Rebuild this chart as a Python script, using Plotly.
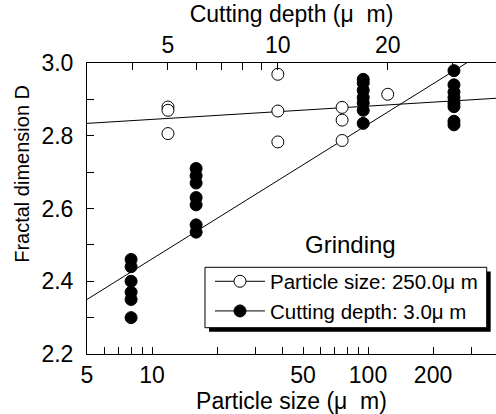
import numpy as np
import plotly.graph_objects as go

# ---- data ----
# Series 1: particle size 250 um, varying cutting depth (top axis)
depth_x = [5, 5, 5, 10, 10, 10, 15, 15, 15, 20]
depth_D = [2.879, 2.870, 2.806, 2.969, 2.868, 2.783, 2.878, 2.843, 2.787, 2.914]

# Series 2: cutting depth 3.0 um, varying particle size (bottom axis)
size_x = [8, 8, 8, 8, 8, 8,
          16, 16, 16, 16, 16, 16, 16,
          95, 95, 95, 95, 95, 95, 95,
          250, 250, 250, 250, 250, 250, 250, 250]
size_D = [2.46, 2.44, 2.40, 2.37, 2.35, 2.30,
          2.71, 2.69, 2.67, 2.63, 2.61, 2.555, 2.535,
          2.955, 2.945, 2.925, 2.905, 2.89, 2.87, 2.834,
          2.979, 2.94, 2.92, 2.905, 2.89, 2.88, 2.84, 2.83]

# fitted lines D = a + b*log10(x)
fit_depth = (2.8046, 0.0616)
fit_size = (2.0914, 0.370)

# axis settings
x_range_log = [np.log10(5), np.log10(5) + 409 / 216]
x2_range_log = [np.log10(3), np.log10(3) + 409 / 365]
y_range = [2.2, 3.0]

x_tickvals = [5, 6, 7, 8, 9, 10, 20, 30, 40, 50, 60, 70, 80, 90, 100, 200, 300]
x_labels = {5: "5", 10: "10", 50: "50", 100: "100", 200: "200"}
x2_tickvals = [3, 4, 5, 6, 7, 8, 9, 10, 20, 30]
x2_labels = {5: "5", 10: "10", 20: "20"}
y_tickvals = [round(2.2 + 0.1 * i, 1) for i in range(9)]
y_labels = {2.2: "2.2", 2.4: "2.4", 2.6: "2.6", 2.8: "2.8", 3.0: "3.0"}

FONT = "Liberation Sans, Arial, sans-serif"

fig = go.Figure()

def fit_line(coef, rng):
    xs = np.array([10 ** rng[0], 10 ** rng[1]])
    return xs, coef[0] + coef[1] * np.log10(xs)

fx, fy = fit_line(fit_size, x_range_log)
fig.add_trace(go.Scatter(x=fx, y=fy, mode="lines", line=dict(color="black", width=1),
                         showlegend=False, xaxis="x", yaxis="y"))
fx2, fy2 = fit_line(fit_depth, x2_range_log)
fig.add_trace(go.Scatter(x=fx2, y=fy2, mode="lines", line=dict(color="black", width=1),
                         showlegend=False, xaxis="x2", yaxis="y"))

MS = 12
fig.add_trace(go.Scatter(x=size_x, y=size_D, mode="markers",
                         marker=dict(symbol="circle", size=MS, color="black",
                                     line=dict(color="black", width=1)),
                         showlegend=False, xaxis="x", yaxis="y"))
fig.add_trace(go.Scatter(x=depth_x, y=depth_D, mode="markers",
                         marker=dict(symbol="circle", size=MS, color="white",
                                     line=dict(color="black", width=1)),
                         showlegend=False, xaxis="x2", yaxis="y"))

# legend entries
fig.add_trace(go.Scatter(x=[None], y=[None], mode="lines+markers",
                         name="Particle size: 250.0\u03bc m",
                         marker=dict(symbol="circle", size=MS, color="white",
                                     line=dict(color="black", width=1)),
                         line=dict(color="black", width=1)))
fig.add_trace(go.Scatter(x=[None], y=[None], mode="lines+markers",
                         name="Cutting depth: 3.0\u03bc m",
                         marker=dict(symbol="circle", size=MS, color="black",
                                     line=dict(color="black", width=1)),
                         line=dict(color="black", width=1)))

axis_common = dict(showline=True, linecolor="black", linewidth=1, ticks="inside",
                   ticklen=7, tickwidth=1, tickcolor="black", showgrid=False,
                   zeroline=False, tickfont=dict(size=23, color="black", family=FONT))

# legend frame with drop shadow (paper coordinates)
shapes = [
    dict(type="rect", xref="paper", yref="paper", x0=0.2983, x1=0.9870, y0=0.0766, y1=0.2835,
         fillcolor="black", line=dict(width=0), layer="above"),
    dict(type="rect", xref="paper", yref="paper", x0=0.2885, x1=0.9773, y0=0.0904, y1=0.2979,
         fillcolor="white", line=dict(color="black", width=1), layer="above"),
]

fig.update_layout(
    width=496, height=414,
    margin=dict(l=87, r=0, t=63, b=60),
    paper_bgcolor="white", plot_bgcolor="white",
    font=dict(family=FONT, color="black", size=23),
    xaxis=dict(type="log", range=x_range_log, tickvals=x_tickvals,
               ticktext=[x_labels.get(v, "") for v in x_tickvals],
               title=dict(text="Particle size (\u03bc\u00a0 m)", font=dict(size=23), standoff=0),
               **axis_common),
    xaxis2=dict(type="log", range=x2_range_log, overlaying="x", side="top",
                tickvals=x2_tickvals, ticktext=[x2_labels.get(v, "") for v in x2_tickvals],
                title=dict(text="Cutting depth (\u03bc\u00a0 m)", font=dict(size=23), standoff=2),
                **axis_common),
    yaxis=dict(range=y_range, tickvals=y_tickvals,
               ticktext=[y_labels.get(v, "") for v in y_tickvals],
               ticklabelstandoff=8,
               **axis_common),
    legend=dict(x=0.3007, y=0.318, xanchor="left", yanchor="top",
                bgcolor="rgba(0,0,0,0)", borderwidth=0,
                font=dict(size=20.5, family=FONT, color="black"),
                itemwidth=50, tracegroupgap=0),
    shapes=shapes,
    annotations=[
        dict(text="Grinding", x=0.760, y=0.376, xref="paper", yref="paper",
             showarrow=False, font=dict(size=24, family=FONT, color="black")),
        dict(text="Fractal dimension D", x=-0.159, y=0.619, xref="paper", yref="paper",
             textangle=-90, showarrow=False, xanchor="center", yanchor="middle",
             font=dict(size=20, family=FONT, color="black")),
    ],
)

fig.write_html("out.html")
